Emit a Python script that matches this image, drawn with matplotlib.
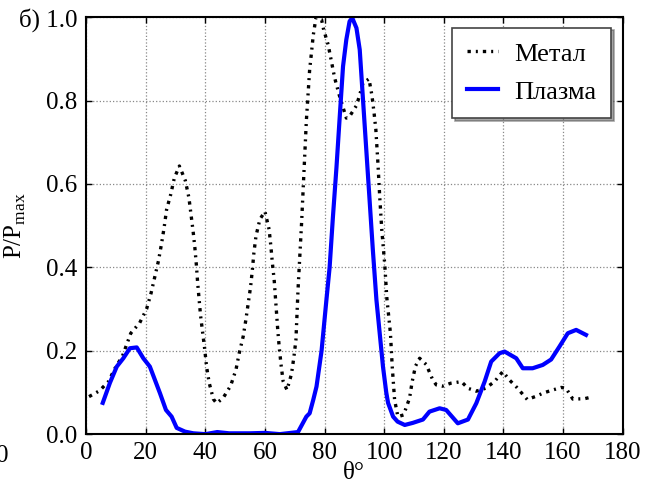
import matplotlib
matplotlib.use("Agg")
import matplotlib.pyplot as plt

plt.rcParams['font.family'] = ['Liberation Serif', 'DejaVu Serif']
plt.rcParams['mathtext.fontset'] = 'custom'
plt.rcParams['mathtext.rm'] = 'Liberation Serif'

# metal curve (black, dash-dot)
metal_x = [1, 4.5, 7.5, 9.7, 12.2, 15, 18, 20.3, 21.8, 24.3, 25.3, 26.2, 27, 28.4, 29.6, 31.3,
           33.3, 34.5, 35.2, 35.9, 36.5, 37, 37.4, 37.9, 38.4, 39.1, 39.8, 40.4, 41.3, 42.7, 43.8,
           46, 48.5, 50.3, 51.4, 52.7, 53.6, 54.4, 55.2, 55.8, 56.3, 57, 58.3, 60,
           61.4, 62, 62.5, 63.1, 63.5, 63.9, 64.3, 64.8, 65.4, 66.1, 67.4,
           68.9, 69.7, 70.4, 71.1, 71.7, 72.3, 73.1, 73.9, 75, 75.6, 76.2, 77.1, 79,
           79.7, 81.2, 82.3, 83.4, 84.9, 87.3, 88.4, 90.7, 91.8, 92.9, 94.9,
           95.9, 96.6, 97.2, 97.9, 98.5, 99.2, 100.2, 100.9, 102.1, 102.7, 103.5, 104.6, 106.5,
           108.5, 109.4, 110.5, 111.9, 114.1, 116.3, 117.5, 119.5, 122.3, 125.9, 128.1, 130.9,
           134, 137, 139.8, 142, 144.5, 148, 151, 153.5, 156.6, 159.4, 161, 163.3, 167.2, 169]
metal_y = [0.09, 0.104, 0.126, 0.158, 0.187, 0.242, 0.267, 0.30, 0.338, 0.416, 0.456, 0.496, 0.538, 0.575, 0.614, 0.643,
           0.608, 0.567, 0.527, 0.487, 0.447, 0.406, 0.366, 0.325, 0.285, 0.244, 0.204, 0.163, 0.123, 0.084, 0.074,
           0.087, 0.116, 0.155, 0.195, 0.234, 0.274, 0.314, 0.354, 0.395, 0.435, 0.475, 0.515, 0.534,
           0.491, 0.45, 0.41, 0.37, 0.33, 0.29, 0.25, 0.208, 0.167, 0.127, 0.106,
           0.144, 0.184, 0.226, 0.346, 0.427, 0.507, 0.63, 0.752, 0.874, 0.914, 0.956, 0.998, 0.994,
           0.97, 0.934, 0.894, 0.854, 0.814, 0.758, 0.762, 0.788, 0.814, 0.842, 0.852,
           0.812, 0.771, 0.731, 0.65, 0.57, 0.49, 0.406, 0.326, 0.242, 0.162, 0.082, 0.042, 0.046,
           0.086, 0.126, 0.163, 0.182, 0.167, 0.13, 0.118, 0.115, 0.122, 0.126, 0.11, 0.103,
           0.11, 0.126, 0.15, 0.13, 0.112, 0.083, 0.091, 0.099, 0.106, 0.112, 0.11, 0.084, 0.085, 0.088]

# plasma curve (blue, solid)
plasma_x = [5.6, 8, 10.3, 12.5, 14.7, 17, 19.2, 21.4, 23.1, 24.8, 26.8, 28.7, 30.4, 33.2, 36, 40,
            44, 48, 55, 60, 65, 71.1, 73.9, 75, 76.2, 77.3, 79, 80.6, 81.7, 82.8, 84, 85.1, 86.2,
            87.3, 88.4, 89.3, 90.7, 91.8, 92.9, 94, 95.1, 96.2, 97.4, 98.5, 99.6, 100.7, 101.3, 103,
            104.5, 106.9, 109.6, 113, 115.2, 118.6, 120.8, 124.7, 128.1, 130.9, 133.7, 135.9,
            138.7, 140.4, 144.3, 146.5, 149.8, 153.2, 156, 158.8, 161.6, 164.4, 167.7]
plasma_y = [0.075, 0.123, 0.162, 0.182, 0.206, 0.208, 0.182, 0.162, 0.13, 0.098, 0.058, 0.042, 0.015, 0.006, 0.002, 0.0,
            0.005, 0.002, 0.002, 0.003, 0.0, 0.005, 0.042, 0.05, 0.082, 0.114, 0.2, 0.32, 0.4, 0.52, 0.64, 0.762, 0.882,
            0.946, 0.99, 0.998, 0.974, 0.922, 0.802, 0.682, 0.562, 0.442, 0.322, 0.242, 0.162, 0.1, 0.075, 0.042,
            0.03, 0.022, 0.027, 0.035, 0.054, 0.062, 0.058, 0.026, 0.035, 0.074, 0.126, 0.174,
            0.194, 0.198, 0.182, 0.158, 0.158, 0.166, 0.179, 0.21, 0.242, 0.25, 0.238]

x_ticks = [0, 20, 40, 60, 80, 100, 120, 140, 160, 180]
y_ticks = [0.0, 0.2, 0.4, 0.6, 0.8, 1.0]
y_ticklabels = ["0.0", "0.2", "0.4", "0.6", "0.8", "б) 1.0"]

fig = plt.figure(figsize=(6.52, 4.9), dpi=100)
ax = fig.add_axes([0.132, 0.114, 0.823, 0.851])

ax.plot(metal_x, metal_y, color='black', lw=2.4, linestyle=(0, (1.0, 1.5, 0.6, 1.5)), label='Метал')
ax.plot(plasma_x, plasma_y, color='#0000ff', lw=3, label='Плазма')

ax.set_xlim(0, 180)
ax.set_ylim(0, 1.0)
ax.set_xticks(x_ticks)
ax.set_yticks(y_ticks)
ax.set_yticklabels(y_ticklabels)
ax.tick_params(direction='in', top=True, right=True, labelsize=18, length=4, width=1, pad=6)
ax.grid(True, linestyle=':', color='#888888', lw=0.9)
for s in ax.spines.values():
    s.set_linewidth(1.5)

ax.set_xlabel('θ°', fontsize=18, labelpad=-2)
ax.set_ylabel(r'P/P$_{\mathrm{max}}$', fontsize=18)
ax.yaxis.set_label_coords(-0.108, 0.5)

leg = ax.legend(loc='upper right', fontsize=19, fancybox=False, shadow=True, framealpha=1,
                edgecolor='#444444', handlelength=1.2, handletextpad=0.6, borderpad=0.55,
                labelspacing=0.55, borderaxespad=0, bbox_to_anchor=(0.978, 0.975))
leg.get_frame().set_linewidth(1.2)

fig.text(0.003, 0.07, '0', fontsize=18, ha='center', va='center')

fig.savefig('out.png', dpi=100)
